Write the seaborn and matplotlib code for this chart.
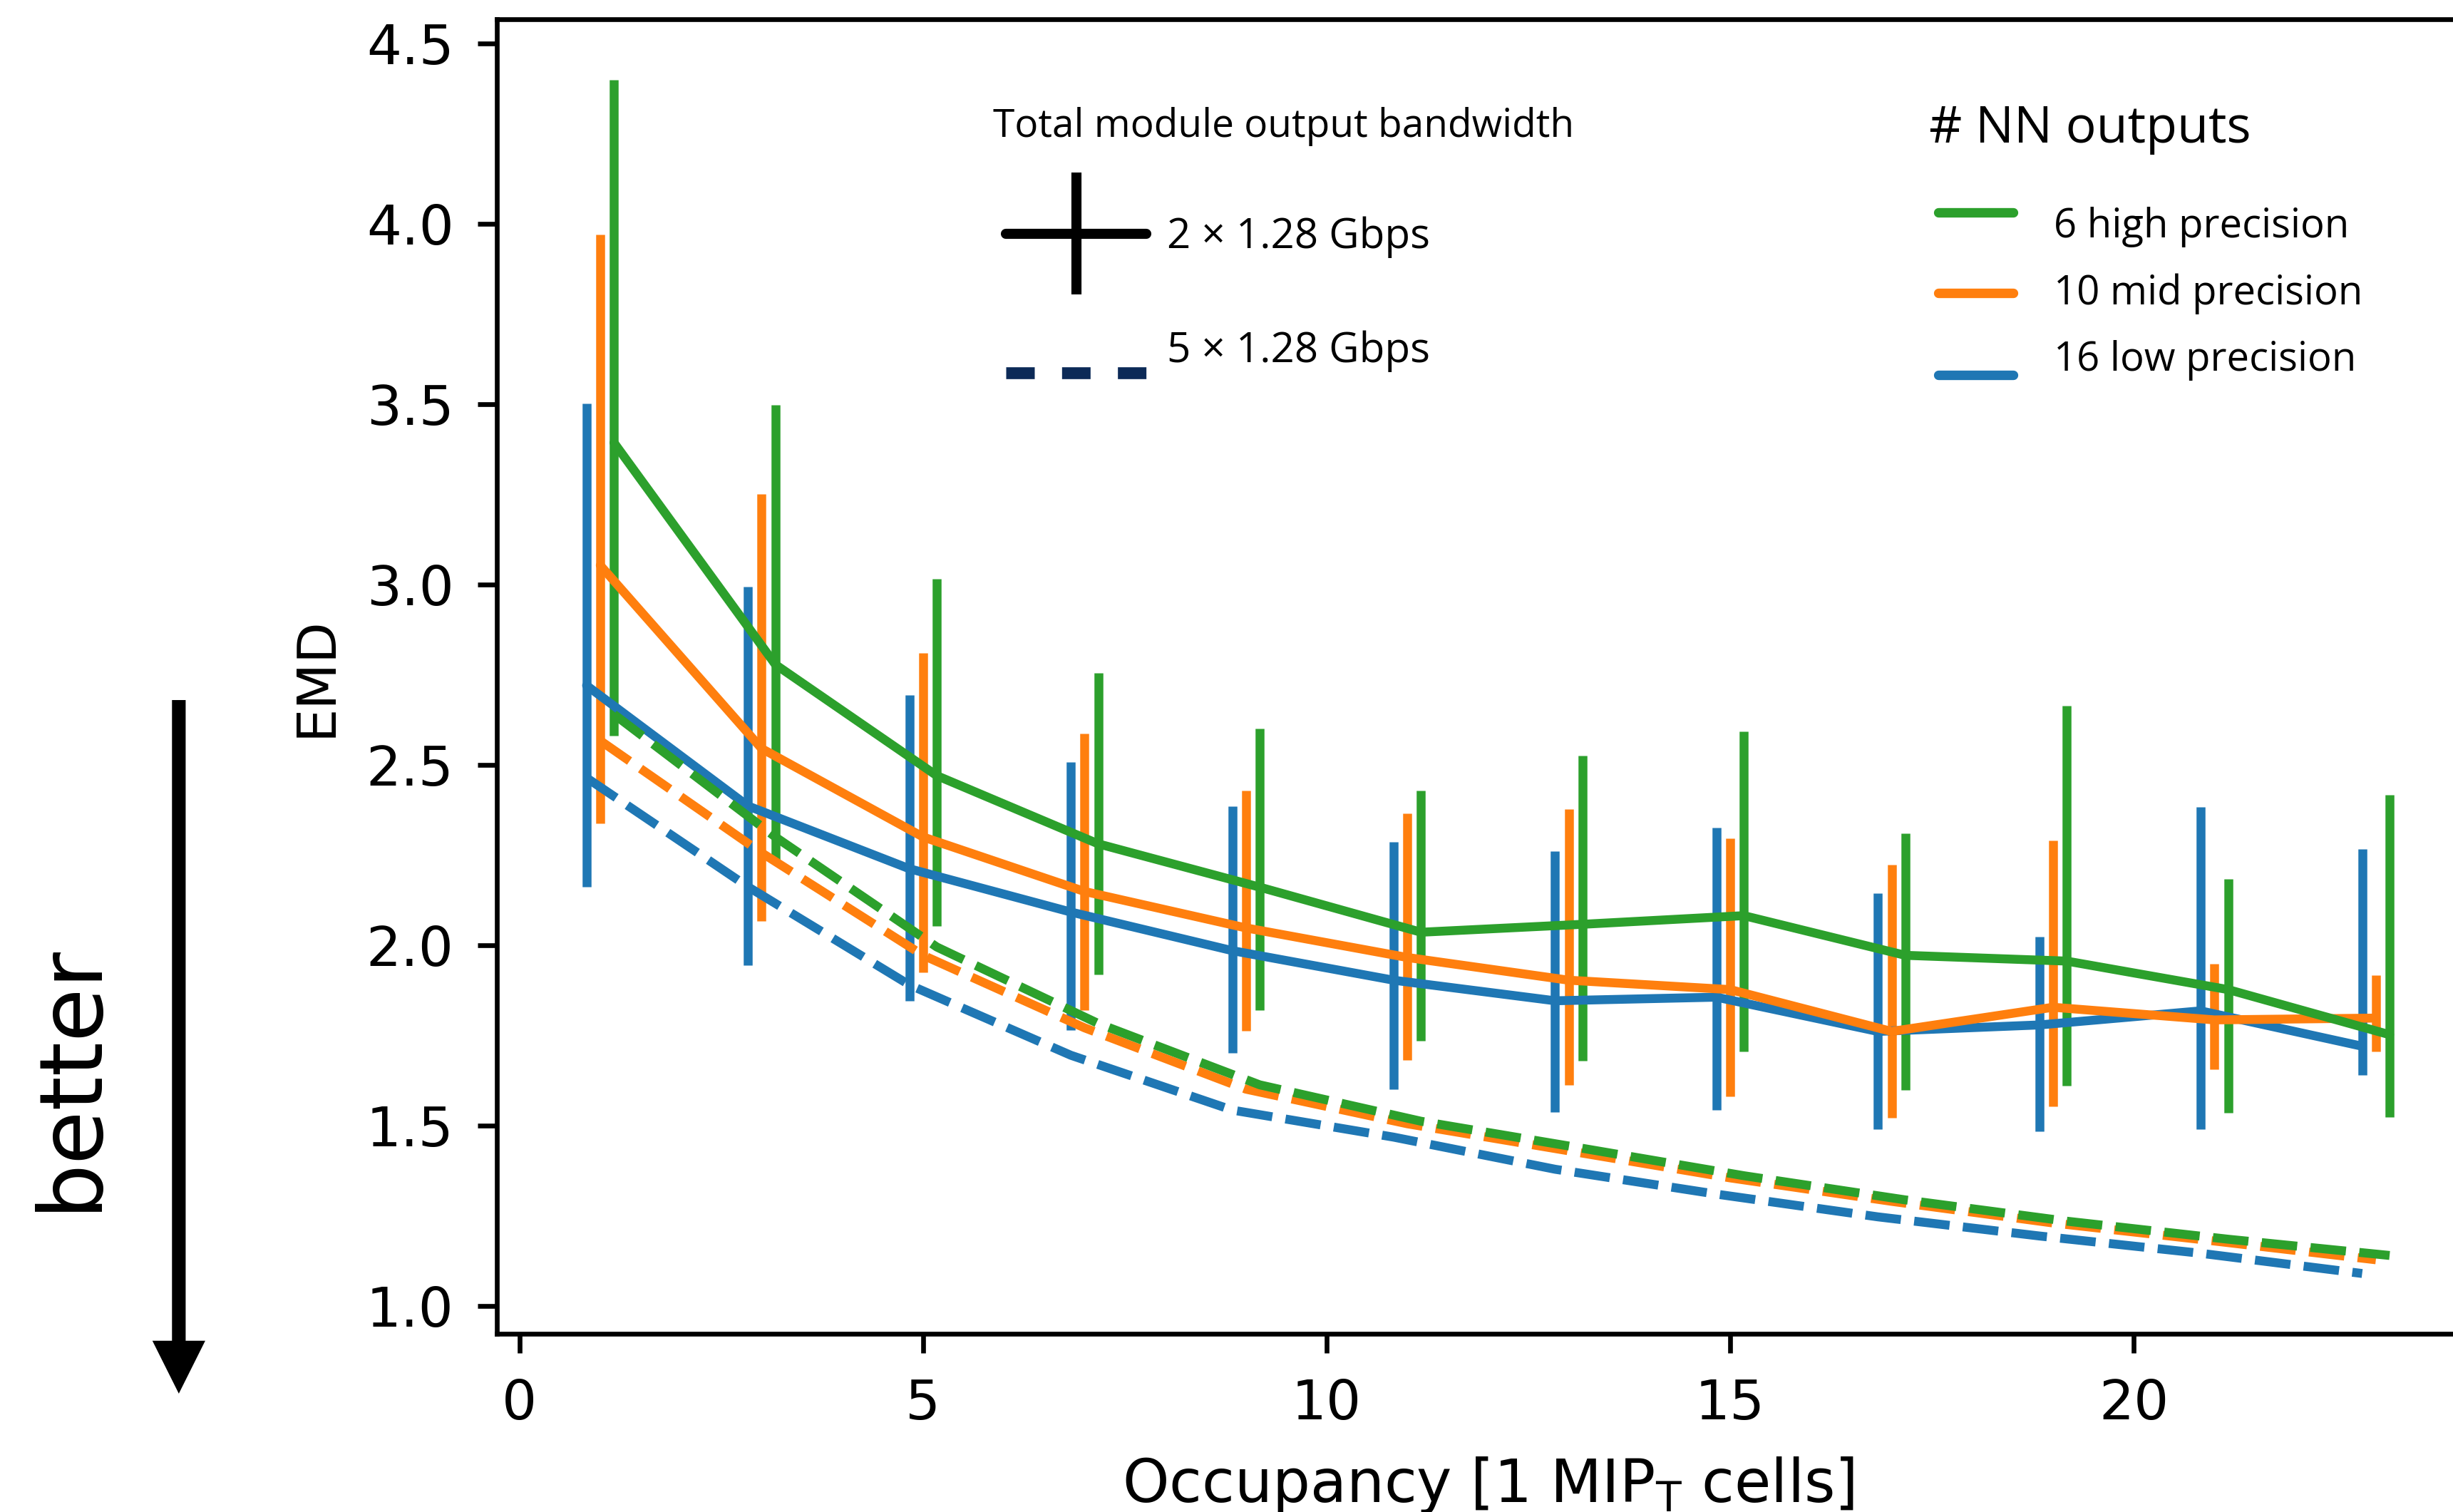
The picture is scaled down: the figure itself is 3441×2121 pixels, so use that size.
import numpy as np
import pandas as pd
import matplotlib
matplotlib.use("Agg")
import matplotlib.pyplot as plt
import seaborn as sns
from matplotlib.lines import Line2D
from matplotlib.collections import LineCollection
from matplotlib.container import ErrorbarContainer
from matplotlib.legend_handler import HandlerLine2D, HandlerErrorbar

# ---------------------------------------------------------------- data
occupancy = [1, 3, 5, 7, 9, 11, 13, 15, 17, 19, 21, 23]
nn_outputs = ["6 high precision", "10 mid precision", "16 low precision"]
bandwidths = ["2 × 1.28 Gbps", "5 × 1.28 Gbps"]

# total module output bandwidth 2 x 1.28 Gbps: mean EMD and error-bar extent
emd_low_2g = [2.720, 2.386, 2.212, 2.092, 1.985, 1.903, 1.846, 1.856, 1.761, 1.779, 1.818, 1.720]
err_lo_low_2g = [2.161, 1.945, 1.846, 1.765, 1.702, 1.601, 1.538, 1.543, 1.490, 1.484, 1.490, 1.640]
err_hi_low_2g = [3.501, 2.993, 2.694, 2.508, 2.386, 2.287, 2.261, 2.325, 2.145, 2.023, 2.383, 2.267]

emd_mid_2g = [3.053, 2.545, 2.300, 2.149, 2.048, 1.966, 1.903, 1.877, 1.761, 1.828, 1.793, 1.798]
err_lo_mid_2g = [2.338, 2.067, 1.925, 1.821, 1.762, 1.682, 1.613, 1.581, 1.522, 1.553, 1.656, 1.706]
err_hi_mid_2g = [3.971, 3.251, 2.811, 2.586, 2.429, 2.366, 2.378, 2.296, 2.223, 2.291, 1.949, 1.916]

emd_high_2g = [3.393, 2.778, 2.470, 2.281, 2.161, 2.036, 2.058, 2.082, 1.972, 1.956, 1.877, 1.752]
err_lo_high_2g = [2.580, 2.237, 2.054, 1.919, 1.821, 1.735, 1.680, 1.705, 1.598, 1.611, 1.536, 1.524]
err_hi_high_2g = [4.399, 3.498, 3.016, 2.754, 2.600, 2.429, 2.526, 2.593, 2.310, 2.663, 2.184, 2.417]

# total module output bandwidth 5 x 1.28 Gbps: mean EMD
emd_low_5g = [2.464, 2.162, 1.890, 1.695, 1.543, 1.468, 1.379, 1.310, 1.247, 1.194, 1.146, 1.090]
emd_mid_5g = [2.567, 2.256, 1.972, 1.771, 1.601, 1.505, 1.430, 1.355, 1.290, 1.230, 1.180, 1.128]
emd_high_5g = [2.640, 2.300, 1.995, 1.783, 1.613, 1.512, 1.437, 1.361, 1.294, 1.235, 1.185, 1.140]

# ---------------------------------------------------------------- styling
palette = {"6 high precision": "#2ca02c",
           "10 mid precision": "#ff7f0e",
           "16 low precision": "#1f77b4"}
dodge = {"16 low precision": -0.17, "10 mid precision": 0.0, "6 high precision": 0.17}
draw_order = ["16 low precision", "10 mid precision", "6 high precision"]

series = {
    ("16 low precision", bandwidths[0]): (emd_low_2g, err_lo_low_2g, err_hi_low_2g),
    ("10 mid precision", bandwidths[0]): (emd_mid_2g, err_lo_mid_2g, err_hi_mid_2g),
    ("6 high precision", bandwidths[0]): (emd_high_2g, err_lo_high_2g, err_hi_high_2g),
    ("16 low precision", bandwidths[1]): (emd_low_5g, emd_low_5g, emd_low_5g),
    ("10 mid precision", bandwidths[1]): (emd_mid_5g, emd_mid_5g, emd_mid_5g),
    ("6 high precision", bandwidths[1]): (emd_high_5g, emd_high_5g, emd_high_5g),
}
rows = []
for (lvl, bw), (mean, lo, hi) in series.items():
    for occ, m, l, h in zip(occupancy, mean, lo, hi):
        rows.append(dict(occupancy=occ, x_plot=occ + dodge[lvl], emd=m, lo=l, hi=h,
                         outputs=lvl, bandwidth=bw))
df = pd.DataFrame(rows)

sns.set_theme(style="ticks")
plt.rcParams.update({
    "font.family": ["DejaVu Sans"],
    "text.color": "black",
    "axes.labelcolor": "black",
    "axes.edgecolor": "black",
    "xtick.color": "black",
    "ytick.color": "black",
    "mathtext.default": "regular",
})

fig = plt.figure(figsize=(3441 / 300, 2121 / 300), dpi=300)
ax = fig.add_axes([0.2026, 0.1179, 0.8084, 0.8694])

# error bars (2 x 1.28 Gbps only)
for lvl in draw_order:
    sub = df[(df.outputs == lvl) & (df.bandwidth == bandwidths[0])]
    ax.vlines(sub.x_plot, sub.lo, sub.hi, colors=palette[lvl], lw=3, zorder=2)

sns.lineplot(data=df, x="x_plot", y="emd", hue="outputs", style="bandwidth",
             hue_order=draw_order, style_order=bandwidths, palette=palette,
             dashes={bandwidths[0]: "", bandwidths[1]: (4, 1.5)},
             estimator=None, sort=False, lw=3, legend=False, ax=ax, zorder=2.1)

ax.set_xlim(-0.28, 24.29)
ax.set_ylim(0.923, 4.567)
ax.set_xticks([0, 5, 10, 15, 20])
ax.set_yticks([1.0, 1.5, 2.0, 2.5, 3.0, 3.5, 4.0, 4.5])
ax.set_yticklabels(["1.0", "1.5", "2.0", "2.5", "3.0", "3.5", "4.0", "4.5"])
ax.tick_params(axis="both", direction="out", length=6.5, width=1.6, labelsize=18.5)
ax.tick_params(axis="y", pad=8)
ax.tick_params(axis="x", pad=8.5)
for s in ax.spines.values():
    s.set_linewidth(1.6)
    s.set_color("black")
ax.set_xlabel("Occupancy [1 MIP$_T$ cells]", fontsize=20, labelpad=8)
ax.set_ylabel("EMD", fontsize=18, labelpad=8)


# ---------------------------------------------------------------- legends
class ShiftedLine(HandlerLine2D):
    def __init__(self, dy=0.0, **kw):
        super().__init__(**kw)
        self.dy = dy

    def create_artists(self, legend, orig_handle, xdescent, ydescent, width,
                       height, fontsize, trans):
        arts = super().create_artists(legend, orig_handle, xdescent, ydescent,
                                      width, height, fontsize, trans)
        for a in arts:
            a.set_ydata(np.asarray(a.get_ydata(), float) + self.dy)
        return arts


bw_line = Line2D([], [], color="black", lw=3.4)
bw_bar = LineCollection([], colors="black", linewidths=3.4)
bw_handle = ErrorbarContainer((bw_line, (), (bw_bar,)), has_xerr=False, has_yerr=True)
dash_handle = Line2D([], [], color="#0c2a57", lw=4.0, linestyle=(0, (2.4, 2.3)))

leg1 = ax.legend([bw_handle, dash_handle], bandwidths,
                 handler_map={ErrorbarContainer: HandlerErrorbar(xerr_size=0.5, yerr_size=1.46),
                              dash_handle: ShiftedLine(dy=-8.6)},
                 loc="upper left", bbox_to_anchor=(0.4101, 0.8569),
                 bbox_transform=fig.transFigure, frameon=False,
                 prop={"family": "Open Sans", "size": 14},
                 handlelength=3.38, handletextpad=0.5, labelspacing=1.74,
                 borderpad=0, borderaxespad=0)
ax.add_artist(leg1)

nn_handles = [Line2D([], [], color=palette[l], lw=3.2) for l in nn_outputs]
shifts = [3.8, -1.0, -6.2]
leg2 = ax.legend(nn_handles, nn_outputs,
                 handler_map={h: ShiftedLine(dy=d) for h, d in zip(nn_handles, shifts)},
                 loc="upper left", bbox_to_anchor=(0.7902, 0.8631),
                 bbox_transform=fig.transFigure, frameon=False,
                 prop={"family": "Open Sans", "size": 13.5},
                 handlelength=1.87, handletextpad=1.0, labelspacing=0.64,
                 borderpad=0, borderaxespad=0)

fig.text(0.4048, 0.9095, "Total module output bandwidth", family="Open Sans",
         fontsize=13.2, ha="left", va="baseline")
fig.text(0.7863, 0.9057, "# NN outputs", family="Open Sans",
         fontsize=17.2, ha="left", va="baseline")

# "better" arrow
ax.annotate("", xy=(0.0729, 0.0783), xytext=(0.0729, 0.537),
            xycoords="figure fraction", textcoords="figure fraction",
            arrowprops=dict(arrowstyle="simple,head_length=1.78,head_width=1.78,tail_width=0.46",
                            mutation_scale=10, fc="black", ec="none", lw=0,
                            shrinkA=0, shrinkB=0))
fig.text(0.0385, 0.2876, "better", fontsize=29.5, rotation=90, rotation_mode="anchor",
         ha="center", va="baseline")

fig.savefig("out.png", dpi=300)
